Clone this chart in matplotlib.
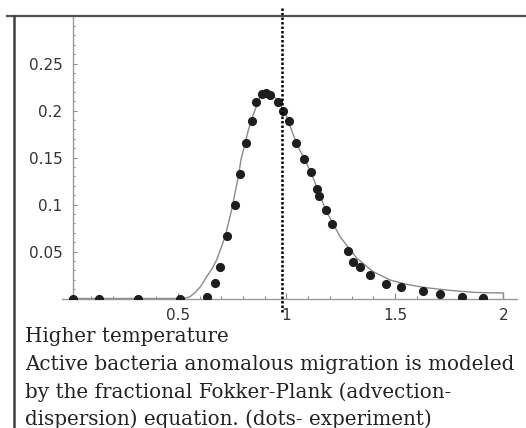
import matplotlib
matplotlib.use("Agg")
import matplotlib.pyplot as plt
from matplotlib.lines import Line2D
from matplotlib.ticker import MultipleLocator, FixedLocator

# experimental dots
dot_x = [0.015, 0.135, 0.317, 0.511, 0.632, 0.671, 0.692, 0.724, 0.763, 0.786,
         0.813, 0.843, 0.859, 0.886, 0.906, 0.926, 0.960, 0.986, 1.010, 1.046,
         1.081, 1.112, 1.141, 1.151, 1.181, 1.212, 1.283, 1.306, 1.337, 1.383,
         1.457, 1.526, 1.630, 1.709, 1.810, 1.905]
dot_y = [0.0, 0.0, 0.0, 0.0, 0.002, 0.0162, 0.0338, 0.0668, 0.0998, 0.1328,
         0.1657, 0.1888, 0.2094, 0.2181, 0.2183, 0.2165, 0.209, 0.1998, 0.189, 0.165,
         0.1487, 0.1344, 0.1168, 0.1087, 0.0939, 0.0796, 0.0505, 0.0391, 0.0338, 0.025,
         0.0157, 0.0126, 0.008, 0.0048, 0.0019, 0.0002]

# model curve (fractional Fokker-Planck)
curve_x = [0.0, 0.50, 0.52, 0.54, 0.555, 0.58, 0.605, 0.632, 0.655, 0.678, 0.717,
           0.747, 0.778, 0.790, 0.824, 0.846, 0.878, 0.895, 0.916, 0.94, 0.970,
           1.001, 1.046, 1.112, 1.181, 1.247, 1.324, 1.400, 1.477, 1.554, 1.630,
           1.707, 1.784, 1.861, 1.907, 2.0, 2.0]
curve_y = [0.0, 0.0, 0.0002, 0.0008, 0.0019, 0.0065, 0.013, 0.0232, 0.031, 0.041, 0.0657,
           0.0941, 0.1296, 0.1473, 0.179, 0.195, 0.2147, 0.218, 0.2183, 0.2155, 0.2077,
           0.1934, 0.165, 0.1346, 0.094, 0.0657, 0.0428, 0.0285, 0.0197, 0.0151, 0.0119,
           0.0098, 0.008, 0.0066, 0.0062, 0.0059, 0.0]

peak_line_x = 0.98

x_ticks = [0.5, 1.0, 1.5, 2.0]
x_tick_labels = ["0.5", "1", "1.5", "2"]
y_ticks = [0.05, 0.1, 0.15, 0.2, 0.25]
y_tick_labels = ["0.05", "0.1", "0.15", "0.2", "0.25"]

caption_lines = ["Higher temperature",
                 "Active bacteria anomalous migration is modeled",
                 "by the fractional Fokker-Plank (advection-",
                 "dispersion) equation. (dots- experiment)"]

W, H = 526, 428
fig = plt.figure(figsize=(W / 100, H / 100), dpi=100)
fig.patch.set_facecolor("white")

ax_l, ax_r, ax_b, ax_t = 61.7, 516.7, 298.5, 17.0
ax = fig.add_axes([ax_l / W, (H - ax_b) / H, (ax_r - ax_l) / W, (ax_b - ax_t) / H])
ax.set_xlim(-0.036, 2.061)
ax.set_ylim(0, 0.2995)

ax.plot(curve_x, curve_y, color="#8a8a8a", lw=1.0, zorder=2)
ax.plot(dot_x, dot_y, "o", color="#1e1e1e", ms=6.6, mew=0, zorder=3)

for s in ["top", "right"]:
    ax.spines[s].set_visible(False)
ax.spines["left"].set_position(("data", 0.015))
ax.spines["left"].set_color("#9a9a9a")
ax.spines["bottom"].set_color("#9a9a9a")
ax.spines["left"].set_linewidth(1.0)
ax.spines["bottom"].set_linewidth(1.0)

ax.xaxis.set_major_locator(FixedLocator(x_ticks))
ax.set_xticklabels(x_tick_labels)
ax.xaxis.set_minor_locator(MultipleLocator(0.1))
ax.yaxis.set_major_locator(FixedLocator(y_ticks))
ax.set_yticklabels(y_tick_labels)
ax.yaxis.set_minor_locator(MultipleLocator(0.01))

ax.tick_params(which="both", direction="in", color="#8a8a8a", labelcolor="#333333", labelsize=11)
ax.tick_params(axis="x", which="major", length=4, width=0.8, pad=7)
ax.tick_params(axis="x", which="minor", length=2.2, width=0.8)
ax.tick_params(axis="y", which="major", length=3, width=0.8, pad=7.5)
ax.tick_params(axis="y", which="minor", length=1.5, width=0.8)

# dotted vertical reference line
trans = ax.get_xaxis_transform()
ax.plot([peak_line_x, peak_line_x], [-0.048, 1.032], transform=trans, color="black",
        lw=1.8, ls=(0, (1, 0.8)), clip_on=False, zorder=4)

# frame lines
fig.add_artist(Line2D([7 / W, 1], [(H - 16) / H, (H - 16) / H], color="#505050", lw=1.6))
fig.add_artist(Line2D([14 / W, 14 / W], [(H - 16) / H, 0], color="#404040", lw=1.8))

# caption
baselines = [342, 370, 398, 425]
for txt, b in zip(caption_lines, baselines):
    fig.text(25 / W, (H - b) / H, txt, family="DejaVu Serif", fontsize=14.3,
             color="#222222", va="baseline", ha="left")

fig.savefig("out.png", dpi=100)
